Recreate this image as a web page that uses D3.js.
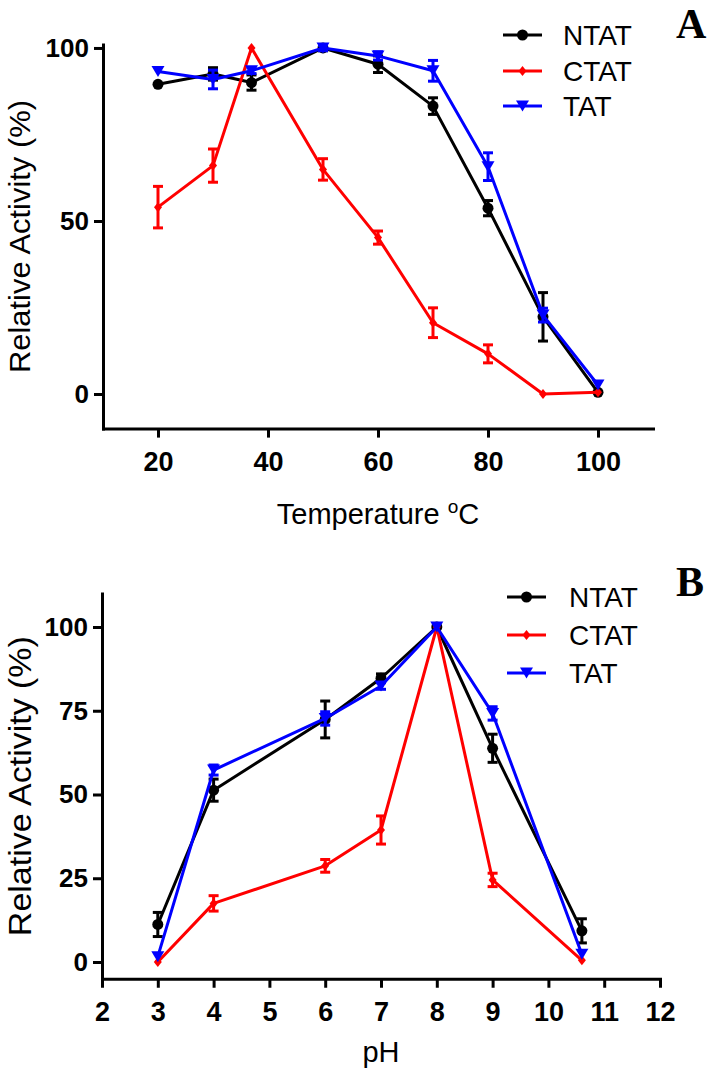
<!DOCTYPE html>
<html>
<head>
<meta charset="utf-8">
<script src="https://cdn.jsdelivr.net/npm/d3@7"></script>
<style>
html,body{margin:0;padding:0;background:#fff;}
svg{display:block;}
</style>
</head>
<body>
<svg id="chart" width="712" height="1076"></svg>
<script>
// ---------- DATA ----------
const seriesNames = ["NTAT", "CTAT", "TAT"];

// Panel A: temperature
const temperatures = [20, 30, 37, 50, 60, 70, 80, 90, 100];
const tempNTAT     = [89.5, 92.5, 90.0, 100, 95.3, 83.2, 53.7, 22.3, 0.5];
const tempNTATerr  = [0, 1.8, 2.2, 0.8, 2.4, 2.4, 2.2, 7.0, 0];
const tempCTAT     = [54.0, 66.0, 100, 64.9, 45.2, 20.6, 11.6, 0.0, 0.5];
const tempCTATerr  = [6.0, 4.8, 0, 3.1, 1.9, 4.3, 2.6, 0, 0];
const tempTAT      = [93.2, 90.9, 93.4, 100, 97.7, 93.4, 65.7, 22.8, 2.6];
const tempTATerr   = [0, 2.7, 0.8, 0.8, 1.2, 3.0, 4.0, 2.0, 0];
const tempXTicks   = [20, 40, 60, 80, 100];
const tempYTicks   = [0, 50, 100];

// Panel B: pH
const phValues   = [3, 4, 6, 7, 8, 9, 10.6];
const phNTAT     = [11.2, 51.3, 72.4, 84.7, 100, 63.8, 9.3];
const phNTATerr  = [3.6, 3.3, 5.5, 1.3, 0, 4.2, 3.6];
const phCTAT     = [0.0, 17.5, 28.7, 39.4, 100, 24.5, 0.5];
const phCTATerr  = [0, 2.3, 1.9, 4.2, 0, 2.0, 0];
const phTAT      = [1.6, 57.3, 72.7, 82.4, 100, 74.2, 2.3];
const phTATerr   = [0, 1.5, 2.0, 1.0, 0, 2.0, 0];
const phXTicks   = [2, 3, 4, 5, 6, 7, 8, 9, 10, 11, 12];
const phYTicks   = [0, 25, 50, 75, 100];

// ---------- STYLE ----------
const colors = {NTAT: "#000000", CTAT: "#ff0000", TAT: "#0000ff"};
const FONT = "'Liberation Sans', Arial, Helvetica, sans-serif";

const svg = d3.select("#chart");
svg.append("rect").attr("width", 712).attr("height", 1076).attr("fill", "#fff");

function markerPath(name) {
  if (name === "NTAT") return d3.symbol().type(d3.symbolCircle).size(Math.PI * 5.5 * 5.5)();
  if (name === "CTAT") return "M0,-5L4,0L0,5L-4,0Z";
  return "M-6.5,-5.5L6.5,-5.5L0,5.5Z";
}

function drawPanel(cfg) {
  const g = svg.append("g");
  const x = d3.scaleLinear().domain(cfg.xDomain).range(cfg.xRange);
  const y = d3.scaleLinear().domain(cfg.yDomain).range(cfg.yRange);

  // axes
  const xAxis = d3.axisBottom(x).tickValues(cfg.xTicks).tickSize(9).tickSizeOuter(0).tickPadding(14)
    .tickFormat(d3.format("d"));
  const yAxis = d3.axisLeft(y).tickValues(cfg.yTicks).tickSize(9).tickSizeOuter(0).tickPadding(5)
    .tickFormat(d3.format("d"));

  const gx = g.append("g").attr("transform", `translate(0,${y(cfg.yDomain[0])})`).call(xAxis);
  const gy = g.append("g").attr("transform", `translate(${x(cfg.xDomain[0])},0)`).call(yAxis);
  [gx, gy].forEach(a => {
    a.select(".domain").attr("stroke", "#000").attr("stroke-width", 3).attr("stroke-linecap", "square");
    a.selectAll(".tick line").attr("stroke", "#000").attr("stroke-width", 3);
    a.selectAll(".tick text").attr("fill", "#000").attr("font-family", FONT)
      .attr("font-weight", "bold").attr("font-size", 26);
  });
  gx.selectAll(".tick text").attr("font-size", 27).attr("dy", "0.71em");

  // series
  cfg.series.forEach(s => {
    const pts = cfg.xs.map((xv, i) => ({x: xv, v: s.values[i], e: s.errs[i]}));
    const col = colors[s.name];
    g.append("path").datum(pts)
      .attr("fill", "none").attr("stroke", col).attr("stroke-width", 3).attr("stroke-linejoin", "round")
      .attr("d", d3.line().x(d => x(d.x)).y(d => y(d.v)));
    const eb = g.append("g").attr("stroke", col).attr("stroke-width", 3);
    pts.filter(d => d.e > 0).forEach(d => {
      const cx = x(d.x), y1 = y(d.v - d.e), y2 = y(d.v + d.e);
      eb.append("line").attr("x1", cx).attr("x2", cx).attr("y1", y1).attr("y2", y2);
      eb.append("line").attr("x1", cx - 5).attr("x2", cx + 5).attr("y1", y1).attr("y2", y1);
      eb.append("line").attr("x1", cx - 5).attr("x2", cx + 5).attr("y1", y2).attr("y2", y2);
    });
    g.append("g").selectAll("path").data(pts).join("path")
      .attr("d", markerPath(s.name)).attr("fill", col)
      .attr("transform", d => `translate(${x(d.x)},${y(d.v)})`);
  });

  // axis titles
  const midX = (cfg.xRange[0] + cfg.xRange[1]) / 2;
  const xt = g.append("text").attr("x", midX).attr("y", cfg.xTitleY).attr("text-anchor", "middle")
    .attr("font-family", FONT).attr("font-size", cfg.xTitleSize).attr("fill", "#000");
  cfg.xTitle(xt);
  const midY = (cfg.yRange[0] + cfg.yRange[1]) / 2;
  g.append("text").attr("transform", `translate(${cfg.yTitleX},${midY}) rotate(-90)`)
    .attr("text-anchor", "middle").attr("font-family", FONT).attr("font-size", cfg.yTitleSize)
    .attr("textLength", cfg.yTitleLen).attr("lengthAdjust", "spacingAndGlyphs")
    .attr("fill", "#000").text("Relative Activity (%)");

  // legend
  seriesNames.forEach((name, i) => {
    const ly = cfg.legendY[i];
    const col = colors[name];
    g.append("line").attr("x1", cfg.legendX).attr("x2", cfg.legendX + 39).attr("y1", ly).attr("y2", ly)
      .attr("stroke", col).attr("stroke-width", 3);
    g.append("path").attr("d", markerPath(name)).attr("fill", col)
      .attr("transform", `translate(${cfg.legendX + 19.5},${ly})`);
    g.append("text").attr("x", cfg.legendTextX).attr("y", ly + 10).attr("font-family", FONT)
      .attr("font-size", 28).attr("fill", "#000").text(name);
  });

  // panel letter
  g.append("text").attr("x", 676).attr("y", cfg.letterY).attr("font-family", "'Liberation Serif', 'Times New Roman', serif")
    .attr("font-weight", "bold").attr("font-size", 42).attr("fill", "#000").text(cfg.letter);
}

drawPanel({
  xs: temperatures,
  series: [
    {name: "NTAT", values: tempNTAT, errs: tempNTATerr},
    {name: "CTAT", values: tempCTAT, errs: tempCTATerr},
    {name: "TAT", values: tempTAT, errs: tempTATerr}
  ],
  xDomain: [10, 110], xRange: [103, 653],
  yDomain: [-10, 101], yRange: [428.6, 44.5],
  xTicks: tempXTicks, yTicks: tempYTicks,
  xTitleY: 524, xTitleSize: 29,
  xTitle: t => { t.append("tspan").text("Temperature "); t.append("tspan").attr("dy", -11).attr("font-size", 19).text("o"); t.append("tspan").attr("dy", 11).text("C"); },
  yTitleX: 30, yTitleSize: 30, yTitleLen: 273,
  legendX: 503, legendTextX: 563, legendY: [35, 71, 106],
  letter: "A", letterY: 38
});

drawPanel({
  xs: phValues,
  series: [
    {name: "NTAT", values: phNTAT, errs: phNTATerr},
    {name: "CTAT", values: phCTAT, errs: phCTATerr},
    {name: "TAT", values: phTAT, errs: phTATerr}
  ],
  xDomain: [2, 12], xRange: [102, 660],
  yDomain: [-5, 110], yRange: [978.75, 593.5],
  xTicks: phXTicks, yTicks: phYTicks,
  xTitleY: 1062, xTitleSize: 29,
  xTitle: t => t.text("pH"),
  yTitleX: 31, yTitleSize: 31, yTitleLen: 300,
  legendX: 507, legendTextX: 569, legendY: [597, 635, 673],
  letter: "B", letterY: 596
});
</script>
</body>
</html>
